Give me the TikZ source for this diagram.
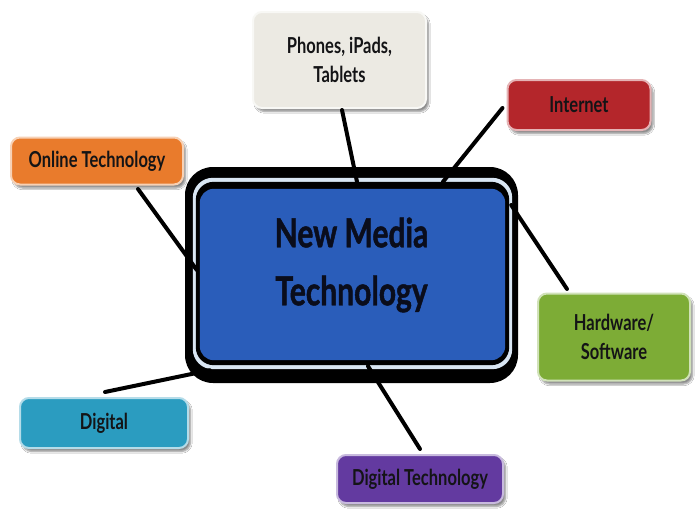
\documentclass[tikz,border=0pt]{standalone}
\usepackage{fontspec}
\newfontfamily\mapfont[FakeStretch=0.75]{Lato}
\newfontfamily\titlefont[FakeStretch=0.75, FakeBold=1.2]{Lato}
\usetikzlibrary{calc,shadows.blur}

\definecolor{coreblue}{HTML}{2A5DBA}
\definecolor{ringlight}{HTML}{D9E6F3}
\definecolor{inkdark}{HTML}{141416}
\definecolor{titleink}{HTML}{0A0D1C}
\definecolor{phonesfill}{HTML}{ECEAE3}
\definecolor{internetfill}{HTML}{B4262B}
\definecolor{onlinefill}{HTML}{E97B2C}
\definecolor{hardfill}{HTML}{7DAC36}
\definecolor{digitalfill}{HTML}{2B9CC0}
\definecolor{dtechfill}{HTML}{633AA0}

\begin{document}
\begin{tikzpicture}[x=1pt,y=-1pt,
  topic/.style={rounded corners=9pt, draw=#1!35!white, line width=2pt, fill=#1,
    font=\mapfont\bfseries\fontsize{22}{29}\selectfont, text=inkdark,
    align=center, inner sep=0pt,
    blur shadow={shadow xshift=2.5pt, shadow yshift=-3.5pt,
      shadow blur steps=6, shadow opacity=45}},
  link/.style={line width=4pt, black, line cap=round}
]
\fill[white] (0,0) rectangle (697,509);
\useasboundingbox (0,0) rectangle (697,509);

% central box: black frame, light ring, inner black frame, blue panel
\node[fill=black, rounded corners=28pt, inner sep=0pt,
      minimum width=333pt, minimum height=216pt] (core) at (351.5,275) {};
\fill[ringlight, rounded corners=20pt]
  ($(core.north west)+(8,11)$) rectangle ($(core.south east)+(-6,-14)$);
\fill[black, rounded corners=18pt]
  ($(core.north west)+(11,15)$) rectangle ($(core.south east)+(-9,-18)$);
\fill[coreblue, rounded corners=14pt]
  ($(core.north west)+(15,22)$) rectangle ($(core.south east)+(-13,-23)$);
\node[font=\titlefont\bfseries\fontsize{40}{58}\selectfont, text=titleink,
      align=center, inner sep=0pt] (title) at ($(core.center)+(0,-10)$)
  {New Media\\Technology};

% surrounding topics
\node[topic=phonesfill, minimum width=173pt, minimum height=96pt]
  (phones) at (339.5,60) {Phones, iPads,\\Tablets};
\node[topic=internetfill, minimum width=143pt, minimum height=50pt]
  (internet) at (579,105) {Internet};
\node[topic=onlinefill, minimum width=172pt, minimum height=47pt]
  (online) at (97,161) {Online Technology};
\node[topic=hardfill, minimum width=152pt, minimum height=87pt]
  (hardware) at (614,337) {Hardware/\\Software};
\node[topic=digitalfill, minimum width=168pt, minimum height=50pt]
  (digital) at (104,423) {Digital};
\node[topic=dtechfill, minimum width=166pt, minimum height=48pt]
  (dtech) at (420,479) {Digital Technology};

% connectors
\draw[link] ($(phones.south)+(2.5,1)$) -- ($(core.north)+(5.5,15)$);
\draw[link] ($(internet.west)+(-4,3)$) -- ($(core.north)+(91.5,15)$);
\draw[link] ($(online.south)+(41,3.5)$) -- ($(core.west)+(12,-5)$);
\draw[link] ($(hardware.north)+(-47,-3.5)$) -- ($(core.east)+(-7,-70)$);
\draw[link] ($(digital.north)+(1,-5)$) -- ($(core.south west)+(25,-13)$);
\draw[link] ($(dtech.north)+(0,-5)$) -- ($(core.south)+(16.5,-17)$);
\end{tikzpicture}
\end{document}
